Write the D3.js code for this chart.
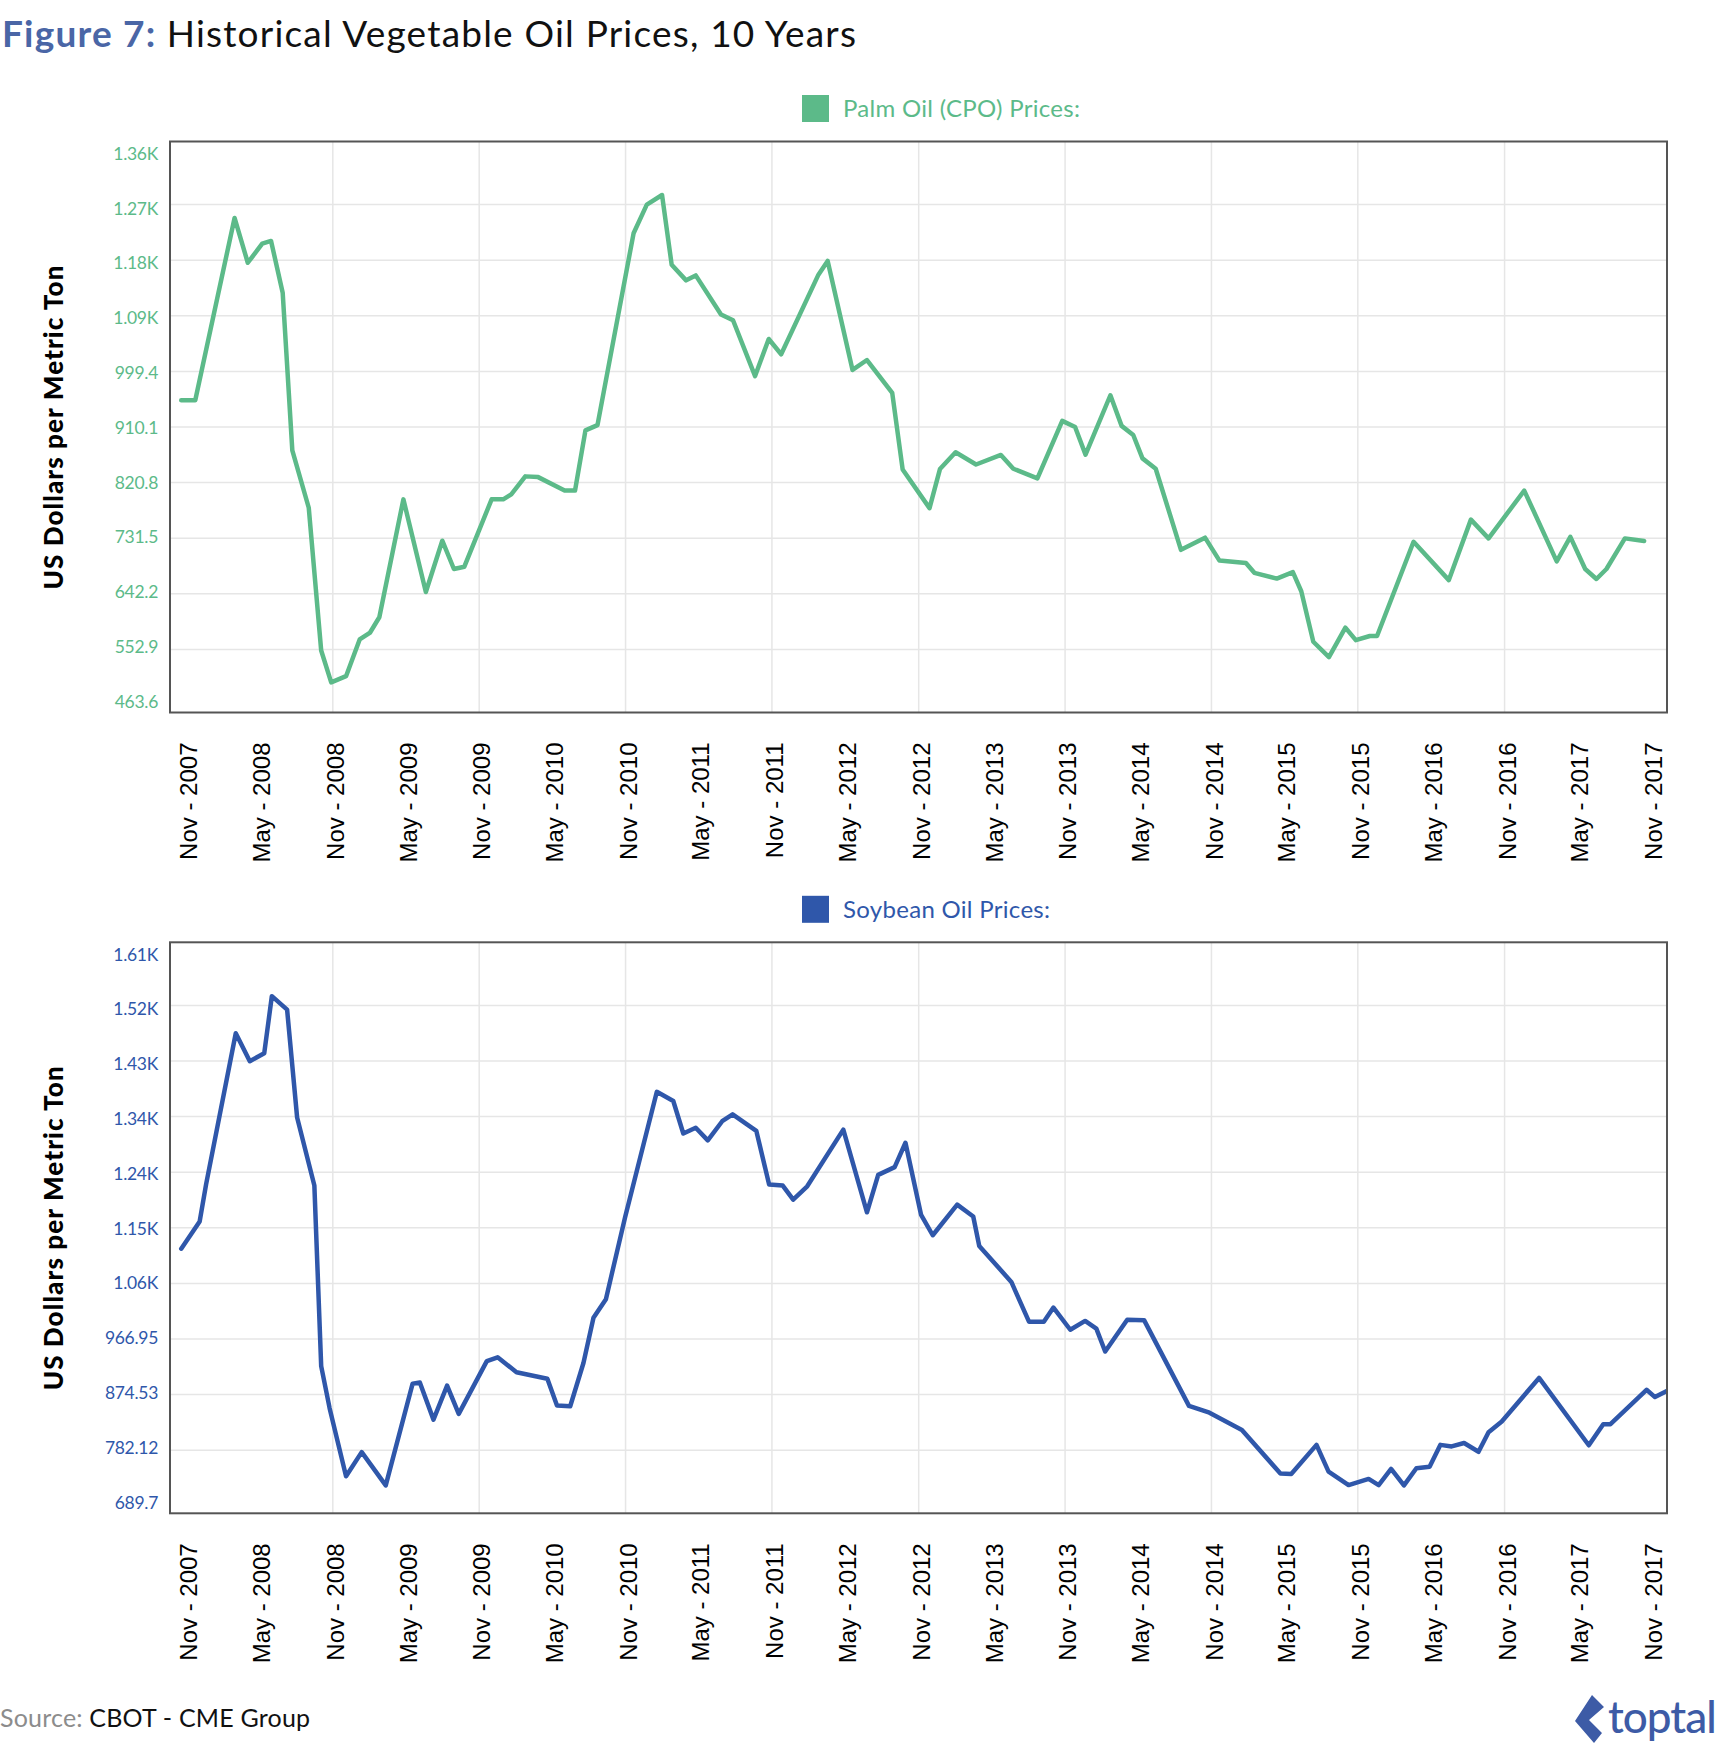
<!DOCTYPE html>
<html>
<head>
<meta charset="utf-8">
<script src="https://cdn.jsdelivr.net/npm/d3@7/dist/d3.min.js"></script>
<style>
  body { margin: 0; background: #ffffff; }
  svg text { font-family: Lato, "Open Sans", sans-serif; }
</style>
</head>
<body>
<div class="container"></div>
<script>
const WIDTH = 1720;
const HEIGHT = 1763;
const PLOT_LEFT = 170;
const PLOT_RIGHT = 1667;
const PLOT_HEIGHT = 571;
const PANEL_TOPS = [141.5, 942.3];
const TICK_PAD = 7.5;
const LABEL_PAD = 11.6;

const GREEN = "#5cba89";
const BLUE = "#2f57aa";

// x axis (time)
const X_START = "2007-09-22";
const X_END = "2017-12-11";
const X_TICK_DATES = ["2007-11-01","2008-05-01","2008-11-01","2009-05-01","2009-11-01","2010-05-01","2010-11-01",
    "2011-05-01","2011-11-01","2012-05-01","2012-11-01","2013-05-01","2013-11-01","2014-05-01","2014-11-01",
    "2015-05-01","2015-11-01","2016-05-01","2016-11-01","2017-05-01","2017-11-01"];
const X_TICK_LABELS = ["Nov - 2007","May - 2008","Nov - 2008","May - 2009","Nov - 2009","May - 2010","Nov - 2010",
    "May - 2011","Nov - 2011","May - 2012","Nov - 2012","May - 2013","Nov - 2013","May - 2014","Nov - 2014",
    "May - 2015","Nov - 2015","May - 2016","Nov - 2016","May - 2017","Nov - 2017"];
const X_GRID_DATES = ["2008-11-01","2009-11-01","2010-11-01","2011-11-01","2012-11-01",
    "2013-11-01","2014-11-01","2015-11-01","2016-11-01"];

// palm oil
const PALM_TICKS = [463.6, 552.9, 642.2, 731.5, 820.8, 910.1, 999.4, 1088.7, 1178.0, 1267.3, 1356.6];
const PALM_TICK_LABELS = ["463.6","552.9","642.2","731.5","820.8","910.1","999.4","1.09K","1.18K","1.27K","1.36K"];
const PALM_DATES = ["2007-10-20","2007-11-24","2008-03-01","2008-04-03","2008-05-09","2008-05-31","2008-06-29",
    "2008-07-23","2008-09-02","2008-10-03","2008-10-28","2008-12-04","2009-01-07","2009-02-02","2009-02-25",
    "2009-04-26","2009-06-21","2009-08-01","2009-08-30","2009-09-25","2009-12-02","2009-12-31","2010-01-20",
    "2010-02-24","2010-03-28","2010-06-02","2010-06-28","2010-07-24","2010-08-23","2010-11-21","2010-12-24",
    "2011-01-31","2011-02-24","2011-04-01","2011-04-25","2011-06-27","2011-07-27","2011-09-20","2011-10-24",
    "2011-11-24","2012-02-25","2012-03-19","2012-05-20","2012-06-25","2012-08-27","2012-09-22","2012-11-28",
    "2012-12-24","2013-02-01","2013-03-24","2013-05-25","2013-06-25","2013-08-24","2013-10-25","2013-11-26",
    "2013-12-22","2014-02-22","2014-03-22","2014-04-20","2014-05-13","2014-06-15","2014-08-17","2014-10-16",
    "2014-11-21","2015-01-26","2015-02-16","2015-04-13","2015-05-23","2015-06-13","2015-07-13","2015-08-21",
    "2015-10-01","2015-10-27","2015-12-01","2015-12-19","2016-03-19","2016-06-15","2016-08-09","2016-09-22",
    "2016-12-20","2017-03-11","2017-04-14","2017-05-21","2017-06-18","2017-07-13","2017-08-28","2017-10-15"];
const PALM_PRICES = [953.1, 953.1, 1245.8, 1173.9, 1204.6, 1208.9, 1125.9, 872.6, 780.4, 551.1, 500.0, 509.9,
    568.9, 580.0, 604.5, 793.9, 645.1, 727.5, 682.0, 685.7, 793.9, 793.9, 801.9, 830.8, 829.6, 808.0, 808.0,
    904.6, 913.2, 1221.2, 1267.3, 1282.7, 1170.8, 1145.6, 1153.6, 1090.9, 1081.6, 991.9, 1051.5, 1026.9,
    1154.8, 1176.9, 1001.7, 1017.7, 964.8, 841.9, 779.8, 842.5, 869.5, 849.9, 865.2, 843.1, 827.7, 919.9,
    910.1, 865.8, 961.1, 911.9, 897.2, 859.7, 843.1, 712.8, 732.4, 695.5, 691.8, 675.9, 666.6, 677.1, 646.3,
    565.2, 540.6, 587.9, 567.7, 574.4, 574.4, 725.7, 664.2, 761.3, 731.2, 808.0, 694.3, 733.7, 682.0, 666.0,
    682.0, 731.2, 726.9];

// soybean oil
const SOY_TICKS = [689.7, 782.12, 874.53, 966.95, 1059.36, 1151.78, 1244.19, 1336.61, 1429.02, 1521.44, 1613.85];
const SOY_TICK_LABELS = ["689.7","782.12","874.53","966.95","1.06K","1.15K","1.24K","1.34K","1.43K","1.52K","1.61K"];
const SOY_DATES = ["2007-10-20","2007-12-05","2007-12-21","2008-03-04","2008-04-08","2008-05-14","2008-06-02",
    "2008-07-10","2008-08-04","2008-09-16","2008-10-03","2008-10-24","2008-12-04","2009-01-12","2009-03-13",
    "2009-05-19","2009-06-06","2009-07-10","2009-08-13","2009-09-11","2009-11-20","2009-12-17","2010-02-02",
    "2010-04-20","2010-05-14","2010-06-16","2010-07-19","2010-08-13","2010-09-13","2010-10-31","2011-01-18",
    "2011-02-28","2011-03-25","2011-04-25","2011-05-25","2011-06-30","2011-07-26","2011-09-23","2011-10-25",
    "2011-11-28","2011-12-24","2012-01-28","2012-04-27","2012-06-25","2012-07-23","2012-09-02","2012-09-29",
    "2012-11-07","2012-12-06","2013-02-05","2013-03-17","2013-04-01","2013-06-20","2013-08-03","2013-09-09",
    "2013-10-03","2013-11-14","2013-12-21","2014-01-18","2014-02-09","2014-04-05","2014-05-17","2014-09-06",
    "2014-10-27","2015-01-16","2015-04-22","2015-05-19","2015-07-21","2015-08-20","2015-10-09","2015-11-28",
    "2015-12-23","2016-01-23","2016-02-24","2016-03-26","2016-04-28","2016-05-25","2016-06-22","2016-07-23",
    "2016-08-28","2016-09-22","2016-10-25","2017-01-26","2017-05-30","2017-07-05","2017-07-23","2017-10-21",
    "2017-11-11","2017-12-13"];
const SOY_PRICES = [1117.1, 1162.3, 1223.9, 1475.1, 1428.7, 1442.0, 1536.8, 1514.5, 1335.2, 1222.0, 921.9,
    852.0, 738.8, 778.9, 723.6, 892.7, 894.6, 832.9, 889.5, 842.5, 930.2, 936.6, 911.8, 901.0, 856.5, 855.2,
    927.0, 1002.1, 1033.2, 1169.9, 1377.8, 1362.5, 1308.5, 1318.0, 1297.1, 1328.9, 1340.3, 1313.0, 1223.9,
    1222.0, 1198.5, 1220.8, 1314.9, 1177.5, 1239.8, 1252.6, 1293.2, 1173.1, 1139.4, 1190.2, 1170.5, 1121.6,
    1061.8, 995.7, 995.7, 1019.2, 982.3, 997.0, 984.2, 946.1, 998.9, 998.3, 855.8, 844.4, 815.8, 743.3, 742.6,
    791.0, 746.5, 724.2, 734.4, 724.2, 750.9, 723.6, 752.2, 754.7, 791.0, 788.4, 794.1, 779.5, 811.9, 829.7,
    902.2, 790.3, 825.3, 825.3, 882.5, 870.4, 881.2];

var parseDate = d3.timeParse("%Y-%m-%d");

var translate = function(x, y){
    return "translate(" + x + "," + y + ")";
};

var xScale = d3.scaleTime()
    .domain([parseDate(X_START), parseDate(X_END)])
    .range([PLOT_LEFT, PLOT_RIGHT]);

var svg = d3.select('.container').append('svg')
    .attr('width', WIDTH)
    .attr('height', HEIGHT);

var drawTitle = function(){
    var title = svg.append('text')
        .attr('x', 2)
        .attr('y', 47)
        .style('font-size', '37px')
        .style('letter-spacing', '1.2px');
    title.append('tspan')
        .style('font-weight', 700)
        .attr('fill', '#4a66a6')
        .text('Figure 7: ');
    title.append('tspan')
        .attr('fill', '#111')
        .text('Historical Vegetable Oil Prices, 10 Years');
};

var drawPanel = function(top, dates, prices, ticks, tickLabels, color, legendText){
    var bottom = top + PLOT_HEIGHT;
    var yScale = d3.scaleLinear()
        .domain([ticks[0], ticks[ticks.length - 1]])
        .range([bottom - TICK_PAD, top + TICK_PAD]);
    // the tick labels sit on a slightly tighter spread than the grid
    var labelScale = d3.scaleLinear()
        .domain(yScale.domain())
        .range([bottom - LABEL_PAD, top + LABEL_PAD]);

    var g = svg.append('g');

    // legend
    g.append('rect')
        .attr('x', 802)
        .attr('y', top - 46.5)
        .attr('width', 27)
        .attr('height', 27)
        .attr('fill', color);
    g.append('text')
        .attr('x', 843)
        .attr('y', top - 33)
        .attr('dy', '0.35em')
        .attr('fill', color)
        .style('font-size', '24px')
        .style('letter-spacing', '0.3px')
        .text(legendText);

    // grid
    g.append('g').selectAll('line')
        .data(ticks.slice(1, -1))
        .enter()
        .append('line')
        .attr('x1', PLOT_LEFT)
        .attr('x2', PLOT_RIGHT)
        .attr('y1', function(d){ return yScale(d); })
        .attr('y2', function(d){ return yScale(d); })
        .attr('stroke', '#e6e6e6')
        .attr('stroke-width', 1.5);
    g.append('g').selectAll('line')
        .data(X_GRID_DATES.map(parseDate))
        .enter()
        .append('line')
        .attr('x1', function(d){ return xScale(d); })
        .attr('x2', function(d){ return xScale(d); })
        .attr('y1', top)
        .attr('y2', bottom)
        .attr('stroke', '#e6e6e6')
        .attr('stroke-width', 1.5);

    // y axis
    var yAxis = d3.axisLeft(labelScale)
        .tickValues(ticks)
        .tickFormat(function(d, i){ return tickLabels[i]; })
        .tickSize(0)
        .tickPadding(12);
    var ya = g.append('g')
        .attr('transform', translate(PLOT_LEFT, 0))
        .call(yAxis);
    ya.select('.domain').remove();
    ya.selectAll('text')
        .attr('fill', color)
        .attr('dy', '0.36em')
        .style('font-size', '17.5px')
        .style('font-family', 'Lato, sans-serif')
        .style('letter-spacing', '-0.3px');

    // x axis
    var xAxis = d3.axisBottom(xScale)
        .tickValues(X_TICK_DATES.map(parseDate))
        .tickFormat(function(d, i){ return X_TICK_LABELS[i]; })
        .tickSize(0);
    var xa = g.append('g')
        .attr('transform', translate(0, bottom))
        .call(xAxis);
    xa.select('.domain').remove();
    xa.selectAll('text')
        .attr('transform', 'rotate(-90)')
        .attr('text-anchor', 'end')
        .attr('x', -30)
        .attr('y', 0)
        .attr('dy', '0.45em')
        .attr('fill', '#000')
        .style('font-size', '24px')
        .style('font-family', '"Liberation Sans", Arial, sans-serif');

    // axis title
    g.append('text')
        .attr('transform', translate(63, (top + bottom) / 2) + ' rotate(-90)')
        .attr('text-anchor', 'middle')
        .attr('fill', '#000')
        .style('font-size', '26px')
        .style('font-weight', 900)
        .style('letter-spacing', '1.1px')
        .text('US Dollars per Metric Ton');

    // line
    var clipId = 'clip' + Math.round(top);
    g.append('clipPath')
        .attr('id', clipId)
        .append('rect')
        .attr('x', PLOT_LEFT)
        .attr('y', top)
        .attr('width', PLOT_RIGHT - PLOT_LEFT)
        .attr('height', PLOT_HEIGHT);

    var points = dates.map(function(d, i){
        return {date: parseDate(d), value: prices[i]};
    });
    var line = d3.line()
        .x(function(d){ return xScale(d.date); })
        .y(function(d){ return yScale(d.value); });

    g.append('path')
        .datum(points)
        .attr('d', line)
        .attr('clip-path', 'url(#' + clipId + ')')
        .attr('fill', 'none')
        .attr('stroke', color)
        .attr('stroke-width', 4.5)
        .attr('stroke-linejoin', 'round')
        .attr('stroke-linecap', 'round');

    // border
    g.append('rect')
        .attr('x', PLOT_LEFT)
        .attr('y', top)
        .attr('width', PLOT_RIGHT - PLOT_LEFT)
        .attr('height', PLOT_HEIGHT)
        .attr('fill', 'none')
        .attr('stroke', '#555')
        .attr('stroke-width', 2);
};

var drawFooter = function(){
    var src = svg.append('text')
        .attr('x', 0)
        .attr('y', 1727)
        .style('font-size', '25px')
        .style('letter-spacing', '0.2px');
    src.append('tspan').attr('fill', '#8c8c8c').text('Source: ');
    src.append('tspan').attr('fill', '#111').text('CBOT - CME Group');

    svg.append('path')
        .attr('d', 'M1592,1695 L1604,1707 L1589,1720 L1602,1733 L1594,1743 L1575,1721 Z')
        .attr('fill', '#3d5ba6');
    svg.append('text')
        .attr('x', 1608)
        .attr('y', 1733)
        .attr('fill', '#3d5ba6')
        .style('font-size', '44px')
        .style('font-weight', 500)
        .style('letter-spacing', '-1px')
        .text('toptal');
};

drawTitle();
drawPanel(PANEL_TOPS[0], PALM_DATES, PALM_PRICES, PALM_TICKS, PALM_TICK_LABELS, GREEN, 'Palm Oil (CPO) Prices:');
drawPanel(PANEL_TOPS[1], SOY_DATES, SOY_PRICES, SOY_TICKS, SOY_TICK_LABELS, BLUE, 'Soybean Oil Prices:');
drawFooter();
</script>
</body>
</html>
